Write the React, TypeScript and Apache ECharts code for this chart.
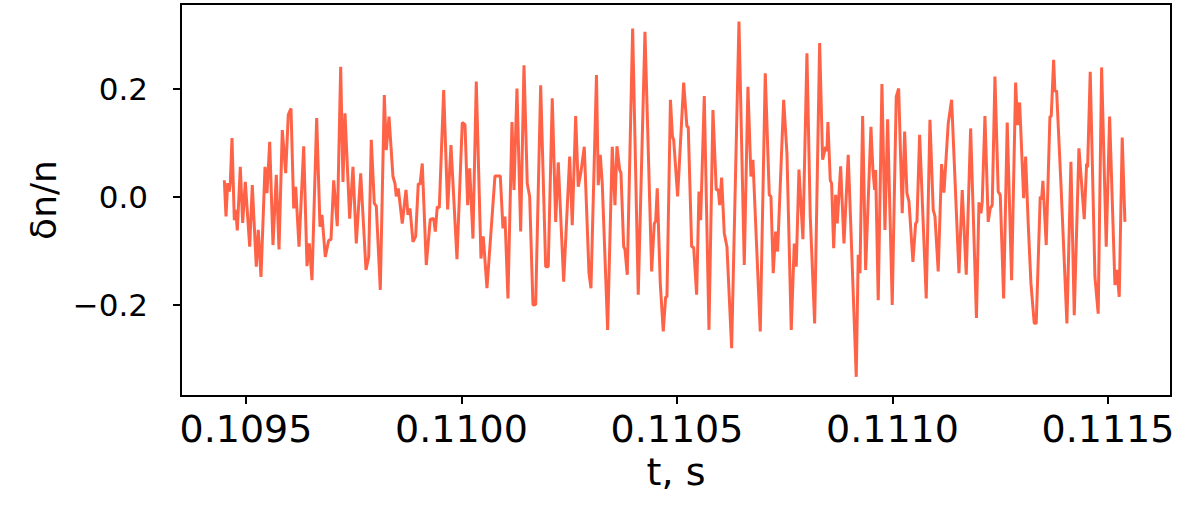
import React, { useEffect, useRef } from "react";
import * as echarts from "echarts";

const timeS: number[] = [
  0.1094497, 0.1094536, 0.1094575, 0.1094613, 0.1094636, 0.1094675, 0.1094729, 0.1094761, 0.1094798, 0.1094868,
  0.1094923, 0.1094984, 0.1095086, 0.1095146, 0.1095239, 0.1095285, 0.1095348, 0.1095441, 0.1095487, 0.1095550,
  0.1095626, 0.1095703, 0.1095766, 0.1095842, 0.1095921, 0.1095981, 0.1096044, 0.1096107, 0.1096153, 0.1096230,
  0.1096339, 0.1096415, 0.1096469, 0.1096531, 0.1096640, 0.1096717, 0.1096763, 0.1096840, 0.1096919, 0.1096972,
  0.1097035, 0.1097118, 0.1097197, 0.1097250, 0.1097297, 0.1097406, 0.1097482, 0.1097559, 0.1097661, 0.1097784,
  0.1097847, 0.1097907, 0.1097977, 0.1098023, 0.1098116, 0.1098209, 0.1098255, 0.1098318, 0.1098410, 0.1098457,
  0.1098487, 0.1098533, 0.1098626, 0.1098712, 0.1098758, 0.1098805, 0.1098874, 0.1098937, 0.1098997, 0.1099037,
  0.1099090, 0.1099183, 0.1099276, 0.1099355, 0.1099392, 0.1099438, 0.1099485, 0.1099587, 0.1099679, 0.1099756,
  0.1099895, 0.1100018, 0.1100081, 0.1100143, 0.1100190, 0.1100266, 0.1100343, 0.1100452, 0.1100505, 0.1100591,
  0.1100777, 0.1100900, 0.1100962, 0.1101009, 0.1101078, 0.1101171, 0.1101218, 0.1101287, 0.1101373, 0.1101450,
  0.1101526, 0.1101582, 0.1101658, 0.1101721, 0.1101837, 0.1101953, 0.1102013, 0.1102106, 0.1102185, 0.1102245,
  0.1102371, 0.1102510, 0.1102570, 0.1102649, 0.1102709, 0.1102772, 0.1102849, 0.1102958, 0.1103004, 0.1103132,
  0.1103173, 0.1103220, 0.1103266, 0.1103391, 0.1103498, 0.1103561, 0.1103607, 0.1103670, 0.1103700, 0.1103763,
  0.1103793, 0.1103846, 0.1103971, 0.1104101, 0.1104257, 0.1104412, 0.1104473, 0.1104505, 0.1104542, 0.1104612,
  0.1104681, 0.1104737, 0.1104767, 0.1104848, 0.1104895, 0.1104923, 0.1105015, 0.1105155, 0.1105231, 0.1105261,
  0.1105340, 0.1105387, 0.1105456, 0.1105510, 0.1105549, 0.1105633, 0.1105742, 0.1105834, 0.1105911, 0.1105957,
  0.1105990, 0.1106036, 0.1106097, 0.1106159, 0.1106268, 0.1106438, 0.1106561, 0.1106646, 0.1106716, 0.1106762,
  0.1106932, 0.1107048, 0.1107141, 0.1107180, 0.1107233, 0.1107289, 0.1107335, 0.1107475, 0.1107551, 0.1107651,
  0.1107721, 0.1107767, 0.1107830, 0.1107922, 0.1108015, 0.1108092, 0.1108194, 0.1108310, 0.1108379, 0.1108449,
  0.1108479, 0.1108502, 0.1108556, 0.1108588, 0.1108635, 0.1108681, 0.1108718, 0.1108797, 0.1108874, 0.1108973,
  0.1109159, 0.1109205, 0.1109245, 0.1109307, 0.1109377, 0.1109500, 0.1109546, 0.1109586, 0.1109609, 0.1109669,
  0.1109755, 0.1109825, 0.1109887, 0.1109994, 0.1110087, 0.1110143, 0.1110226, 0.1110282, 0.1110335, 0.1110382,
  0.1110474, 0.1110537, 0.1110567, 0.1110630, 0.1110783, 0.1110869, 0.1110945, 0.1110985, 0.1111061, 0.1111140,
  0.1111194, 0.1111293, 0.1111372, 0.1111542, 0.1111618, 0.1111711, 0.1111813, 0.1111948, 0.1112006, 0.1112052,
  0.1112082, 0.1112145, 0.1112221, 0.1112268, 0.1112314, 0.1112377, 0.1112453, 0.1112500, 0.1112579, 0.1112662,
  0.1112764, 0.1112857, 0.1112903, 0.1112950, 0.1113043, 0.1113089, 0.1113149, 0.1113212, 0.1113289, 0.1113335,
  0.1113428, 0.1113460, 0.1113490, 0.1113567, 0.1113653, 0.1113683, 0.1113739, 0.1113769, 0.1113808, 0.1113908,
  0.1114047, 0.1114140, 0.1114217, 0.1114326, 0.1114449, 0.1114504, 0.1114527, 0.1114588, 0.1114697, 0.1114773,
  0.1114852, 0.1114959, 0.1115038, 0.1115161, 0.1115207, 0.1115261, 0.1115330, 0.1115393,
];

const deltaN: number[] = [
  0.031, -0.036, 0.026, 0.010, 0.026, 0.109, -0.043, -0.024, -0.062, 0.056,
  -0.048, 0.028, -0.092, 0.022, -0.129, -0.061, -0.148, 0.056, 0.007, 0.102,
  -0.089, 0.041, -0.097, 0.124, 0.044, 0.152, 0.164, -0.021, 0.019, -0.092,
  0.094, -0.128, -0.086, -0.154, 0.146, -0.055, -0.033, -0.111, -0.080, -0.079,
  0.031, -0.054, 0.241, 0.028, 0.155, -0.040, 0.056, -0.086, 0.044, -0.135,
  -0.111, 0.106, -0.012, -0.017, -0.172, 0.189, 0.087, 0.149, 0.038, 0.025,
  0.001, 0.016, -0.049, 0.013, -0.033, -0.021, -0.083, -0.073, 0.025, 0.023,
  0.062, -0.126, -0.041, -0.040, -0.064, -0.018, -0.020, 0.198, -0.023, 0.096,
  -0.115, 0.138, 0.134, -0.015, 0.053, -0.077, 0.214, -0.114, -0.073, -0.169,
  0.039, 0.039, -0.058, -0.036, -0.188, 0.139, 0.013, 0.201, -0.064, 0.244,
  0.025, 0.001, -0.200, -0.199, 0.207, -0.129, -0.129, 0.183, -0.046, 0.064,
  -0.157, 0.075, -0.052, 0.150, 0.019, 0.047, 0.093, -0.141, -0.169, 0.226,
  0.022, 0.078, 0.025, -0.246, 0.093, -0.015, 0.094, 0.050, 0.045, -0.092,
  -0.097, -0.144, 0.312, -0.181, 0.306, -0.138, -0.049, -0.045, 0.016, -0.160,
  -0.249, -0.185, -0.185, 0.180, 0.112, 0.106, 0.001, 0.212, 0.130, 0.130,
  -0.092, -0.093, -0.181, 0.010, -0.043, 0.187, -0.246, 0.161, 0.013, 0.014,
  -0.015, 0.036, -0.067, -0.092, -0.280, 0.325, -0.126, 0.204, 0.038, 0.069,
  -0.249, 0.229, 0.004, 0.001, -0.141, -0.064, -0.101, 0.180, 0.081, -0.246,
  -0.086, -0.129, 0.051, -0.078, 0.266, -0.036, -0.234, 0.285, 0.069, 0.093,
  0.085, 0.139, 0.031, 0.025, -0.095, 0.004, -0.049, 0.057, -0.086, 0.078,
  -0.333, -0.107, -0.141, 0.150, -0.135, 0.130, 0.050, 0.013, 0.050, -0.191,
  0.209, -0.061, 0.144, -0.200, 0.186, 0.201, -0.030, 0.121, 0.007, -0.008,
  -0.120, -0.049, -0.046, 0.115, -0.188, 0.143, -0.024, -0.036, -0.138, 0.061,
  0.008, 0.136, 0.180, -0.141, 0.013, -0.144, 0.127, -0.224, -0.010, -0.030,
  -0.010, 0.150, -0.046, -0.021, -0.015, 0.223, 0.010, 0.004, -0.188, 0.138,
  -0.154, 0.212, 0.133, 0.175, -0.002, 0.075, -0.049, -0.160, -0.234, -0.234,
  0.001, -0.005, 0.030, -0.089, 0.149, 0.149, 0.254, 0.195, 0.197, 0.025,
  -0.234, 0.065, -0.219, 0.090, -0.041, 0.062, 0.055, 0.232, -0.148, -0.216,
  0.240, -0.092, 0.149, -0.163, -0.135, -0.185, 0.110, -0.046,
];

const xTicks: number[] = [0.1095, 0.11, 0.1105, 0.111, 0.1115];
const yTicks: number[] = [-0.2, 0, 0.2];

export default function App() {
  const ref = useRef<HTMLDivElement>(null);
  useEffect(() => {
    document.body.style.margin = "0";
    if (!ref.current) return;
    const chart = echarts.init(ref.current, null, { renderer: "svg" });
    const font = "DejaVu Sans";
    const data = timeS.map((t, i) => [t, deltaN[i]]);
    chart.setOption({
      animation: false,
      grid: {
        left: 181,
        right: 25,
        top: 4,
        bottom: 112,
        show: true,
        borderColor: "#000",
        borderWidth: 2,
      },
      xAxis: {
        type: "value",
        min: 0.1093492,
        max: 0.1116462,
        name: "t, s",
        nameLocation: "middle",
        nameGap: 56,
        nameTextStyle: { fontFamily: font, fontSize: 38, color: "#000" },
        axisLine: { show: true, onZero: false, lineStyle: { color: "#000", width: 2 } },
        axisTick: { show: true, customValues: xTicks, length: 8, inside: false, lineStyle: { color: "#000", width: 2 } },
        axisLabel: {
          customValues: xTicks,
          margin: 14,
          fontFamily: font,
          fontSize: 38,
          color: "#000",
          formatter: (v: number) => v.toFixed(4),
        },
        splitLine: { show: false },
      },
      yAxis: {
        type: "value",
        min: -0.3685,
        max: 0.3574,
        name: "δn/n",
        nameLocation: "middle",
        nameGap: 120,
        nameRotate: 90,
        nameTextStyle: { fontFamily: font, fontSize: 36, color: "#000" },
        axisLine: { show: true, onZero: false, lineStyle: { color: "#000", width: 2 } },
        axisTick: { show: true, customValues: yTicks, length: 8, inside: false, lineStyle: { color: "#000", width: 2 } },
        axisLabel: {
          customValues: yTicks,
          margin: 33,
          fontFamily: font,
          fontSize: 31,
          color: "#000",
          formatter: (v: number) => {
            const s = Math.abs(v).toFixed(1);
            return v < -1e-9 ? "\u2212" + s : s;
          },
        },
        splitLine: { show: false },
      },
      series: [
        {
          type: "line",
          data,
          showSymbol: false,
          symbol: "none",
          lineStyle: { color: "#FF6347", width: 3 },
          z: 3,
        },
      ],
    });
    return () => chart.dispose();
  }, []);
  return <div ref={ref} style={{ width: 1196, height: 508 }} />;
}
